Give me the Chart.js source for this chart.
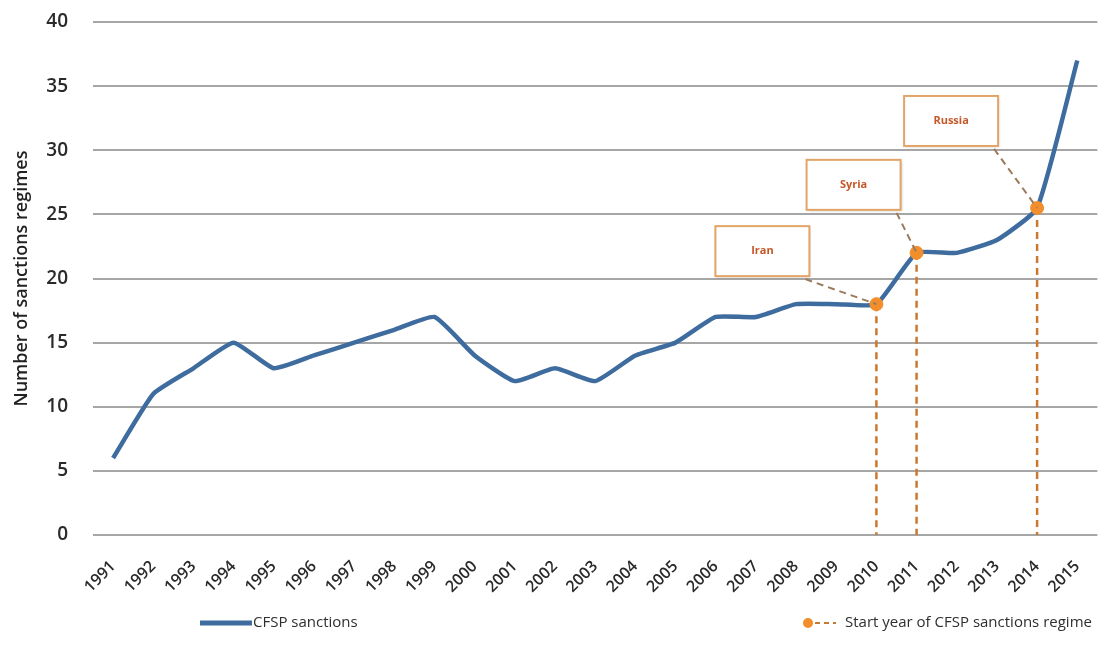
<!DOCTYPE html>
<html>
<head>
<meta charset="utf-8">
<script src="https://cdn.jsdelivr.net/npm/chart.js@4/dist/chart.umd.min.js"></script>
<style>
  html, body { margin: 0; padding: 0; background: #fff; }
  #wrap { width: 1105px; height: 653px; position: relative; }
</style>
</head>
<body>
<div id="wrap"><canvas id="chart"></canvas></div>
<script>
// values
const years = ['1991', '1992', '1993', '1994', '1995', '1996', '1997', '1998', '1999', '2000',
  '2001', '2002', '2003', '2004', '2005', '2006', '2007', '2008', '2009', '2010',
  '2011', '2012', '2013', '2014', '2015'];
const sanctions = [6, 11, 13, 15, 13, 14, 15, 16, 17, 14, 12, 13, 12, 14, 15, 17, 17, 18, 18, 18,
  22, 22, 23, 25.5, 37];
const regimeYears = ['2010', '2011', '2014'];
const regimeNames = ['Iran', 'Syria', 'Russia'];
const yTicks = [0, 5, 10, 15, 20, 25, 30, 35, 40];

const BLUE = '#3f6c9f';
const ORANGE = '#f28e2b';
const DASH = '#c9782f';

// marker series: only the start years of a regime get a value
const regimeStarts = years.map(y => {
  const i = regimeYears.indexOf(y);
  return i === -1 ? null : sanctions[years.indexOf(y)];
});

// box placement relative to its marker (pixels)
const boxOffsets = {
  Iran:   { dx: -67, dy: -28 },
  Syria:  { dx: -16, dy: -43 },
  Russia: { dx: -39, dy: -62 }
};

const regimePlugin = {
  id: 'regimes',
  beforeDatasetsDraw(chart) {
    const { ctx } = chart;
    const meta = chart.getDatasetMeta(1);
    const yZero = chart.scales.y.getPixelForValue(0);
    ctx.save();
    ctx.strokeStyle = DASH;
    ctx.lineWidth = 2.5;
    ctx.setLineDash([7, 5]);
    meta.data.forEach((pt, i) => {
      if (regimeStarts[i] === null) return;
      ctx.beginPath();
      ctx.moveTo(pt.x, pt.y);
      ctx.lineTo(pt.x, yZero);
      ctx.stroke();
    });
    ctx.restore();
  },
  afterDatasetsDraw(chart) {
    const { ctx } = chart;
    const meta = chart.getDatasetMeta(1);
    ctx.save();
    regimeYears.forEach((yr, k) => {
      const pt = meta.data[years.indexOf(yr)];
      const off = boxOffsets[regimeNames[k]];
      const w = 94, h = 50;
      const right = pt.x + off.dx, bottom = pt.y + off.dy;
      const left = right - w, top = bottom - h;
      // leader line
      ctx.strokeStyle = '#9b7a5c';
      ctx.lineWidth = 2;
      ctx.setLineDash([7, 5]);
      ctx.beginPath();
      ctx.moveTo(right - 4, bottom + 3);
      ctx.lineTo(pt.x, pt.y);
      ctx.stroke();
      ctx.setLineDash([]);
      // box
      ctx.fillStyle = '#ffffff';
      ctx.shadowColor = 'rgba(0,0,0,0.25)';
      ctx.shadowBlur = 3;
      ctx.shadowOffsetX = 1;
      ctx.shadowOffsetY = 1;
      ctx.fillRect(left, top, w, h);
      ctx.shadowColor = 'transparent';
      ctx.strokeStyle = '#e3a467';
      ctx.lineWidth = 2;
      ctx.strokeRect(left, top, w, h);
      ctx.fillStyle = '#c5582a';
      ctx.font = 'bold 11px "Open Sans"';
      ctx.textAlign = 'center';
      ctx.textBaseline = 'middle';
      ctx.fillText(regimeNames[k], left + w / 2, top + h / 2);
    });
    ctx.restore();
  },
  afterDraw(chart) {
    // legend drawn by hand to match the dot-and-dash symbol
    const { ctx } = chart;
    const y = 623;
    ctx.save();
    ctx.strokeStyle = BLUE;
    ctx.lineWidth = 5;
    ctx.beginPath();
    ctx.moveTo(200, y);
    ctx.lineTo(252, y);
    ctx.stroke();
    ctx.fillStyle = '#2f2f2f';
    ctx.font = '15px "Open Sans"';
    ctx.textBaseline = 'middle';
    ctx.fillText(chart.data.datasets[0].label, 253, y);

    ctx.strokeStyle = DASH;
    ctx.lineWidth = 2;
    ctx.setLineDash([5, 4]);
    ctx.beginPath();
    ctx.moveTo(815, y);
    ctx.lineTo(836, y);
    ctx.stroke();
    ctx.setLineDash([]);
    ctx.fillStyle = ORANGE;
    ctx.beginPath();
    ctx.arc(808, y, 5, 0, Math.PI * 2);
    ctx.fill();
    ctx.fillStyle = '#2f2f2f';
    ctx.fillText(chart.data.datasets[1].label, 845, y);
    ctx.restore();
  }
};

new Chart(document.getElementById('chart'), {
  type: 'line',
  data: {
    labels: years,
    datasets: [
      {
        label: 'CFSP sanctions',
        data: sanctions,
        borderColor: BLUE,
        borderWidth: 4.5,
        tension: 0.15,
        pointRadius: 0,
        borderJoinStyle: 'round',
        order: 1
      },
      {
        label: 'Start year of CFSP sanctions regime',
        data: regimeStarts,
        showLine: false,
        pointRadius: 6.5,
        pointBackgroundColor: ORANGE,
        pointBorderColor: ORANGE,
        order: 0
      }
    ]
  },
  options: {
    responsive: true,
    maintainAspectRatio: false,
    animation: false,
    layout: { padding: { top: 22, right: 0, bottom: 58, left: 0 } },
    plugins: {
      legend: { display: false },
      tooltip: { enabled: false }
    },
    scales: {
      x: {
        offset: true,
        grid: { display: false },
        border: { display: false },
        ticks: {
          minRotation: 45,
          maxRotation: 45,
          autoSkip: false,
          color: '#2a2a2a',
          font: { family: 'Open Sans', size: 16, weight: '600' },
          padding: 14
        },
        afterFit(scale) { scale.height = 60; }
      },
      y: {
        min: 0,
        max: 40,
        afterBuildTicks(scale) { scale.ticks = yTicks.map(v => ({ value: v })); },
        grid: { color: '#a6a6a6', lineWidth: 2, drawTicks: false },
        border: { display: false },
        ticks: {
          color: '#2a2a2a',
          font: { family: 'Open Sans', size: 19, weight: '600' },
          padding: 25
        },
        title: {
          display: true,
          text: 'Number of sanctions regimes',
          color: '#222',
          font: { family: 'Open Sans', size: 18, weight: '600' },
          padding: { top: 11, bottom: 0 }
        },
        afterFit(scale) {
          scale.width = 93;
          scale.paddingTop = 0;
          scale.paddingBottom = 0;
        }
      }
    }
  },
  plugins: [regimePlugin]
});
</script>
</body>
</html>
